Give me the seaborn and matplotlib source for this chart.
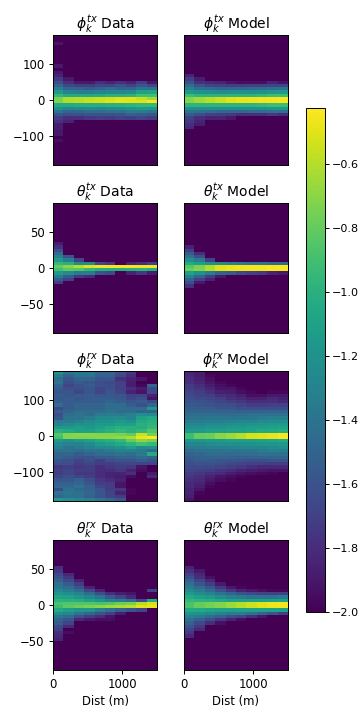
import numpy as np
import matplotlib
matplotlib.use('Agg')
import matplotlib.pyplot as plt
import seaborn as sns

# log10 values per (angle bin, distance bin), 40 rows top to bottom, 10 columns
# a short row means the remaining columns sit at the floor value
floor_val = -2.0
top_val = -0.425
dist_max = 1500
phi_max = 180
theta_max = 90

phi_tx_data = [[]]*2 + [[-1.92]] + [[]]*6 + [[-1.9], [], [-1.9], [-1.85],
    [-1.75, -1.9],
    [-1.62, -1.78, -1.9, -1.9, -1.8, -1.85, -1.78, -1.85, -1.72, -1.9],
    [-1.5, -1.65, -1.72, -1.72, -1.68, -1.68, -1.6, -1.7, -1.58, -1.68],
    [-1.35, -1.5, -1.5, -1.55, -1.5, -1.45, -1.5, -1.5, -1.38, -1.4],
    [-1.15, -1.3, -1.33, -1.33, -1.3, -1.28, -1.28, -1.25, -1.1, -1.08],
    [-0.95, -1.05, -1.05, -1.05, -1.05, -1.0, -1.0, -0.98, -0.9, -0.9],
    [-0.75, -0.62, -0.6, -0.58, -0.56, -0.54, -0.5, -0.5, -0.56, -0.66],
    [-0.72, -0.62, -0.6, -0.56, -0.54, -0.5, -0.48, -0.5, -0.5, -0.44],
    [-1.05, -1.05, -1.02, -1.02, -1.02, -1.0, -1.0, -0.98, -0.95, -0.95],
    [-1.2, -1.28, -1.25, -1.25, -1.28, -1.25, -1.22, -1.18, -1.15, -1.15],
    [-1.4, -1.48, -1.48, -1.45, -1.45, -1.42, -1.4, -1.35, -1.35, -1.38],
    [-1.58, -1.62, -1.62, -1.6, -1.6, -1.6, -1.6, -1.52, -1.55, -1.58],
    [-1.72, -1.8, -1.78, -1.75, -1.72, -1.75, -1.7, -1.72, -1.68, -1.72],
    [-1.78, -1.85], [-1.88], [-1.88], [-1.9], [-1.9], [], [-1.95]] + [[]]*7

phi_tx_model = [[]]*12 + [[-1.85], [-1.72, -1.88],
    [-1.6, -1.78, -1.82, -1.85, -1.92, -1.95, -1.95, -1.95, -1.85, -1.92],
    [-1.45, -1.6, -1.68, -1.7, -1.72, -1.72, -1.7, -1.7, -1.68, -1.68],
    [-1.3, -1.42, -1.45, -1.48, -1.48, -1.48, -1.45, -1.45, -1.42, -1.4],
    [-1.15, -1.2, -1.22, -1.25, -1.22, -1.22, -1.22, -1.2, -1.18, -1.15],
    [-0.92, -0.98, -0.98, -0.98, -0.98, -0.98, -0.98, -0.95, -0.92, -0.92],
    [-0.72, -0.65, -0.6, -0.56, -0.5, -0.48, -0.47, -0.46, -0.45, -0.44],
    [-0.72, -0.65, -0.6, -0.56, -0.5, -0.48, -0.47, -0.46, -0.45, -0.44],
    [-0.98, -0.98, -0.98, -0.98, -0.98, -0.98, -0.98, -0.95, -0.92, -0.92],
    [-1.2, -1.22, -1.22, -1.22, -1.22, -1.22, -1.22, -1.2, -1.18, -1.15],
    [-1.38, -1.42, -1.45, -1.48, -1.48, -1.48, -1.45, -1.45, -1.42, -1.42],
    [-1.55, -1.62, -1.7, -1.72, -1.75, -1.8, -1.8, -1.8, -1.75, -1.8],
    [-1.7, -1.8, -1.85, -1.85, -1.9],
    [-1.75, -1.85], [-1.78, -1.88], [-1.82]] + [[]]*11

theta_tx_data = [[]]*12 + [[-1.88], [-1.78], [-1.62], [-1.45],
    [-1.3, -1.58],
    [-1.15, -1.35, -1.68],
    [-0.95, -1.0, -1.25, -1.25, -1.65, -1.75, -2.0, -1.85, -1.8, -1.7],
    [-0.8, -0.7, -0.6, -0.5, -0.46, -0.45, -0.45, -0.45, -0.46, -0.45],
    [-0.9, -0.82, -0.85, -0.95, -1.0, -1.02, -1.02, -1.0, -0.98, -1.02],
    [-1.15, -1.25, -1.35, -1.35, -1.6, -1.65, -2.0, -1.85, -1.75, -1.88],
    [-1.35, -1.55, -1.75, -1.82],
    [-1.55, -1.7], [-1.72]] + [[]]*15

theta_tx_model = [[]]*13 + [[-1.85], [-1.72], [-1.55, -1.8], [-1.4, -1.62],
    [-1.22, -1.35, -1.7],
    [-1.05, -1.1, -1.2, -1.25, -1.3, -1.35, -1.4, -1.4, -1.45, -1.45],
    [-0.85, -0.75, -0.62, -0.5, -0.47, -0.46, -0.45, -0.45, -0.44, -0.44],
    [-0.78, -0.72, -0.6, -0.5, -0.47, -0.46, -0.45, -0.45, -0.44, -0.44],
    [-1.1, -1.2, -1.35, -1.5, -1.55, -1.65, -1.7, -1.75, -1.85, -1.9],
    [-1.3, -1.5, -1.72, -1.9],
    [-1.5, -1.7, -1.85], [-1.62, -1.9], [-1.78]] + [[]]*14

phi_rx_data = [
    [-1.2, -1.4, -1.38, -1.38, -1.5, -1.5, -1.62, -1.75],
    [-1.35, -1.5, -1.4, -1.4, -1.52, -1.52, -1.65, -1.8],
    [-1.45, -1.58, -1.5, -1.5, -1.58, -1.58, -1.78, -1.85, -1.92],
    [-1.4, -1.62, -1.55, -1.58, -1.62, -1.65, -1.7, -1.88],
    [-1.5, -1.68, -1.6, -1.55, -1.62, -1.62, -1.7, -1.88, -1.97, -1.5],
    [-1.55, -1.62, -1.62, -1.58, -1.68, -1.62, -1.7, -1.8, -1.88, -1.65],
    [-1.58, -1.58, -1.68, -1.58, -1.68, -1.58, -1.68, -1.85, -1.92, -1.65],
    [-1.55, -1.58, -1.55, -1.55, -1.58, -1.58, -1.58, -1.7, -1.68, -1.85],
    [-1.58, -1.55, -1.58, -1.55, -1.55, -1.55, -1.58, -1.68, -1.62, -1.92],
    [-1.55, -1.55, -1.55, -1.55, -1.55, -1.5, -1.55, -1.58, -1.55, -1.65],
    [-1.45, -1.55, -1.5, -1.5, -1.5, -1.45, -1.45, -1.55, -1.62, -1.5],
    [-1.65, -1.55, -1.5, -1.5, -1.5, -1.45, -1.45, -1.45, -1.45, -1.15],
    [-1.55, -1.5, -1.45, -1.45, -1.45, -1.4, -1.45, -1.45, -1.5, -1.5],
    [-1.62, -1.45, -1.4, -1.45, -1.35, -1.35, -1.35, -1.3, -1.22, -1.25],
    [-1.58, -1.4, -1.4, -1.35, -1.25, -1.25, -1.25, -1.3, -1.1, -1.05],
    [-1.35, -1.35, -1.3, -1.25, -1.2, -1.2, -1.15, -1.2, -1.05, -1.0],
    [-1.3, -1.25, -1.2, -1.2, -1.15, -1.15, -1.1, -1.1, -1.0, -0.98],
    [-1.15, -1.15, -1.12, -1.15, -1.1, -1.05, -1.0, -1.0, -1.02, -0.95],
    [-1.0, -1.05, -1.1, -1.1, -1.05, -1.0, -0.95, -1.0, -0.95, -0.85],
    [-0.85, -0.72, -0.7, -0.7, -0.72, -0.72, -0.75, -0.8, -0.55, -0.75],
    [-0.9, -0.72, -0.72, -0.72, -0.7, -0.7, -0.68, -0.62, -0.47, -0.44],
    [-1.15, -1.2, -1.15, -1.1, -1.05, -1.0, -0.95, -0.8, -0.7, -0.75],
    [-1.25, -1.3, -1.3, -1.25, -1.15, -1.1, -1.05, -0.98, -0.9, -0.95],
    [-1.3, -1.4, -1.35, -1.3, -1.25, -1.25, -1.2, -1.12, -1.25, -1.2],
    [-1.4, -1.4, -1.45, -1.4, -1.4, -1.35, -1.3, -1.3, -1.35, -1.45],
    [-1.5, -1.5, -1.55, -1.5, -1.45, -1.45, -1.4, -1.45, -1.35, -1.05],
    [-1.5, -1.55, -1.6, -1.6, -1.55, -1.55, -1.5, -1.5, -1.45, -1.5],
    [-1.6, -1.62, -1.68, -1.62, -1.72, -1.62, -1.6, -1.6, -1.55, -1.6],
    [-1.62, -1.62, -1.72, -1.68, -1.72, -1.72, -1.68, -1.68, -1.68, -1.68],
    [-1.75, -1.72, -1.75, -1.72, -1.8, -1.75, -1.72, -1.75, -1.92],
    [-1.72, -1.68, -1.72, -1.72, -1.8, -1.8, -1.75, -1.85, -1.95],
    [-1.72, -1.68, -1.75, -1.75, -1.8, -1.85, -1.85, -1.8, -2.0, -1.9],
    [-1.68, -1.62, -1.68, -1.72, -1.8, -1.85, -1.88, -1.95, -2.0, -1.82],
    [-1.58, -1.58, -1.52, -1.62, -1.75, -1.8, -1.85],
    [-1.52, -1.52, -1.48, -1.58, -1.72, -1.72, -1.92],
    [-1.48, -1.48, -1.42, -1.52, -1.68, -1.72, -1.92],
    [-1.65, -1.42, -1.48, -1.52, -1.58, -1.72, -1.75, -1.97],
    [-1.42, -1.38, -1.42, -1.48, -1.58, -1.68, -1.85, -1.97],
    [-1.48, -1.42, -1.42, -1.52, -1.58, -1.68, -1.72],
    [-1.15, -1.22, -1.28, -1.32, -1.38, -1.48, -1.58],
]

phi_rx_model = [
    [-1.85, -1.88],
    [-1.82, -1.88, -1.97],
    [-1.8, -1.86, -1.94],
    [-1.78, -1.84, -1.92, -1.97],
    [-1.74, -1.8, -1.88, -1.94, -1.97],
    [-1.72, -1.76, -1.84, -1.92, -1.92, -1.97],
    [-1.68, -1.72, -1.78, -1.86, -1.88, -1.94, -1.97, -2.0, -1.97, -1.97],
    [-1.66, -1.7, -1.72, -1.78, -1.82, -1.86, -1.94, -1.94, -1.9, -1.9],
    [-1.62, -1.65, -1.68, -1.72, -1.78, -1.82, -1.86, -1.86, -1.82, -1.86],
    [-1.6, -1.6, -1.64, -1.68, -1.72, -1.75, -1.8, -1.8, -1.78, -1.82],
    [-1.56, -1.58, -1.6, -1.62, -1.64, -1.68, -1.72, -1.72, -1.7, -1.7],
    [-1.54, -1.54, -1.55, -1.58, -1.58, -1.62, -1.62, -1.62, -1.62, -1.62],
    [-1.5, -1.5, -1.5, -1.52, -1.52, -1.52, -1.52, -1.52, -1.5, -1.5],
    [-1.45, -1.45, -1.45, -1.45, -1.45, -1.45, -1.42, -1.42, -1.42, -1.42],
    [-1.4, -1.4, -1.38, -1.38, -1.38, -1.38, -1.38, -1.35, -1.32, -1.32],
    [-1.35, -1.35, -1.32, -1.32, -1.3, -1.28, -1.28, -1.25, -1.25, -1.22],
    [-1.28, -1.28, -1.25, -1.25, -1.22, -1.2, -1.18, -1.18, -1.15, -1.15],
    [-1.22, -1.2, -1.18, -1.18, -1.15, -1.15, -1.12, -1.12, -1.1, -1.08],
    [-1.15, -1.15, -1.12, -1.12, -1.1, -1.1, -1.08, -1.05, -1.05, -1.02],
    [-0.92, -0.8, -0.78, -0.7, -0.66, -0.6, -0.52, -0.5, -0.48, -0.44],
    [-0.92, -0.8, -0.78, -0.7, -0.66, -0.6, -0.52, -0.5, -0.48, -0.44],
    [-1.18, -1.18, -1.15, -1.15, -1.12, -1.12, -1.12, -1.1, -1.08, -1.05],
    [-1.28, -1.28, -1.25, -1.22, -1.22, -1.22, -1.2, -1.18, -1.18, -1.15],
    [-1.35, -1.35, -1.32, -1.32, -1.3, -1.28, -1.28, -1.28, -1.25, -1.22],
    [-1.45, -1.4, -1.4, -1.4, -1.38, -1.38, -1.38, -1.35, -1.32, -1.32],
    [-1.5, -1.48, -1.45, -1.45, -1.45, -1.45, -1.45, -1.42, -1.42, -1.42],
    [-1.55, -1.52, -1.5, -1.5, -1.52, -1.52, -1.52, -1.52, -1.5, -1.5],
    [-1.58, -1.55, -1.55, -1.58, -1.58, -1.6, -1.62, -1.62, -1.6, -1.6],
    [-1.62, -1.6, -1.6, -1.62, -1.65, -1.68, -1.7, -1.7, -1.72, -1.72],
    [-1.65, -1.65, -1.66, -1.68, -1.72, -1.75, -1.78, -1.82, -1.82, -1.82],
    [-1.68, -1.7, -1.72, -1.76, -1.8, -1.85, -1.88, -1.9, -1.92, -1.92],
    [-1.72, -1.75, -1.8, -1.82, -1.88, -1.92, -1.94, -1.96, -1.98],
    [-1.75, -1.78, -1.85, -1.92, -1.95, -1.98, -2.0],
    [-1.78, -1.82, -1.9, -1.95, -1.98],
    [-1.82, -1.85, -1.95],
    [-1.82, -1.88, -1.98],
    [-1.85, -1.92],
    [-1.85, -1.98],
    [-1.88],
    [-1.92],
]

theta_rx_data = [[]]*8 + [[-1.8], [-1.75], [-1.65, -1.82], [-1.6, -1.75],
    [-1.52, -1.65, -1.85],
    [-1.42, -1.55, -1.72],
    [-1.38, -1.45, -1.6, -1.85],
    [-1.28, -1.35, -1.45, -1.65, -1.85, -2.0, -2.0, -2.0, -2.0, -1.7],
    [-1.18, -1.22, -1.3, -1.45, -1.62, -1.8, -1.88, -1.92],
    [-1.08, -1.1, -1.18, -1.28, -1.38, -1.55, -1.68, -1.82],
    [-0.98, -1.0, -1.02, -1.1, -1.18, -1.3, -1.35, -1.42, -1.65, -1.05],
    [-0.88, -0.85, -0.85, -0.85, -0.88, -0.85, -0.78, -0.75, -0.6, -0.52],
    [-0.92, -0.82, -0.78, -0.75, -0.7, -0.65, -0.62, -0.58, -0.5, -0.48],
    [-1.05, -1.12, -1.18, -1.18, -1.32, -1.42, -1.52, -1.58, -1.68],
    [-1.22, -1.28, -1.38, -1.48, -1.6, -1.7, -1.88],
    [-1.38, -1.45, -1.62, -1.72, -1.8, -1.92],
    [-1.5, -1.58, -1.82, -1.9, -1.94, -1.94],
    [-1.55, -1.68], [-1.65, -1.82], [-1.7], [-1.78, -1.95], [-1.82], [-1.85]] + [[]]*9

theta_rx_model = [[]]*8 + [[-1.85], [-1.78, -1.9], [-1.7, -1.82], [-1.62, -1.78, -1.94],
    [-1.52, -1.68, -1.82],
    [-1.42, -1.58, -1.72, -1.9],
    [-1.35, -1.45, -1.58, -1.75, -1.9, -1.97],
    [-1.25, -1.35, -1.45, -1.6, -1.75, -1.85, -1.9, -1.94, -1.97, -1.97],
    [-1.15, -1.25, -1.3, -1.4, -1.5, -1.6, -1.65, -1.7, -1.7, -1.7],
    [-1.05, -1.1, -1.15, -1.25, -1.3, -1.35, -1.4, -1.4, -1.4, -1.35],
    [-0.95, -0.98, -1.0, -1.05, -1.1, -1.1, -1.1, -1.1, -1.1, -1.1],
    [-0.88, -0.8, -0.76, -0.72, -0.66, -0.6, -0.55, -0.5, -0.47, -0.45],
    [-0.88, -0.8, -0.76, -0.72, -0.66, -0.6, -0.55, -0.5, -0.47, -0.45],
    [-1.05, -1.05, -1.08, -1.1, -1.1, -1.1, -1.1, -1.1, -1.1, -1.1],
    [-1.18, -1.2, -1.25, -1.3, -1.35, -1.35, -1.42, -1.5, -1.6, -1.72],
    [-1.3, -1.35, -1.45, -1.52, -1.62, -1.68, -1.8, -1.9],
    [-1.42, -1.52, -1.62, -1.75, -1.85, -1.94],
    [-1.52, -1.65, -1.8, -1.94],
    [-1.6, -1.75],
    [-1.68, -1.82],
    [-1.75],
    [-1.82]] + [[]]*10

data_grid = [
    [phi_tx_data, phi_tx_model],
    [theta_tx_data, theta_tx_model],
    [phi_rx_data, phi_rx_model],
    [theta_rx_data, theta_rx_model],
]
angle_limits = [phi_max, theta_max, phi_max, theta_max]
angle_ticks = [[100, 0, -100], [50, 0, -50], [100, 0, -100], [50, 0, -50]]
titles = [r'$\phi_k^{tx}$', r'$\theta_k^{tx}$', r'$\phi_k^{rx}$', r'$\theta_k^{rx}$']
col_names = ['Data', 'Model']
dist_ticks = [0, 1000]
cbar_ticks = [-0.6, -0.8, -1.0, -1.2, -1.4, -1.6, -1.8, -2.0]


def to_grid(rows):
    # pad the short rows out to 10 columns with the floor value
    arr = np.full((40, 10), floor_val)
    for i, row in enumerate(rows):
        arr[i, :len(row)] = row
    return arr


def main():
    sns.set_style('white', {'text.color': 'black', 'axes.labelcolor': 'black',
                            'xtick.color': 'black', 'ytick.color': 'black',
                            'axes.edgecolor': 'black'})
    plt.rcParams['font.family'] = ['DejaVu Sans']
    fig = plt.figure(figsize=(3.6, 7.2), dpi=100)
    fig.patch.set_facecolor('white')

    lefts = [53, 184]
    tops = [35, 203, 371, 540]
    w, h = 104, 130

    for i in range(4):
        for j in range(2):
            ax = fig.add_axes([lefts[j]/360, 1 - (tops[i]+h)/720, w/360, h/720])
            sns.heatmap(to_grid(data_grid[i][j]), vmin=floor_val, vmax=top_val,
                        cmap='viridis', cbar=False, ax=ax,
                        xticklabels=False, yticklabels=False)
            for sp in ax.spines.values():
                sp.set_visible(True)
                sp.set_color('black')
                sp.set_linewidth(0.7)
            ax.set_title(titles[i] + ' ' + col_names[j], fontsize=10, pad=4, color='black')
            ax.tick_params(left=False, bottom=False, length=3, width=0.7, labelsize=8.4, pad=3)
            if j == 0:
                lim = angle_limits[i]
                ax.set_yticks([(lim - t) / (2*lim) * 40 for t in angle_ticks[i]])
                ax.set_yticklabels([str(t).replace('-', '\u2212') for t in angle_ticks[i]], rotation=0)
                ax.tick_params(axis='y', left=True)
            if i == 3:
                ax.set_xticks([t / dist_max * 10 for t in dist_ticks])
                ax.set_xticklabels([str(t) for t in dist_ticks], rotation=0)
                ax.tick_params(axis='x', bottom=True)
                ax.set_xlabel('Dist (m)', fontsize=8.4, labelpad=3)

    cax = fig.add_axes([306/360, 1 - 612/720, 19/360, 504/720])
    sm = plt.cm.ScalarMappable(cmap='viridis', norm=plt.Normalize(floor_val, top_val))
    cb = fig.colorbar(sm, cax=cax)
    cb.set_ticks(cbar_ticks)
    cb.ax.set_yticklabels([f'{t:.1f}'.replace('-', '\u2212') for t in cbar_ticks])
    # labels run close to the right edge, keep them inside the figure
    cb.ax.tick_params(right=True, length=3, width=0.7, labelsize=8.0, pad=2)
    cb.outline.set_linewidth(0.7)
    cb.outline.set_edgecolor('black')

    fig.savefig('out.png', dpi=100)
    plt.close(fig)


if __name__ == "__main__":
    main()
